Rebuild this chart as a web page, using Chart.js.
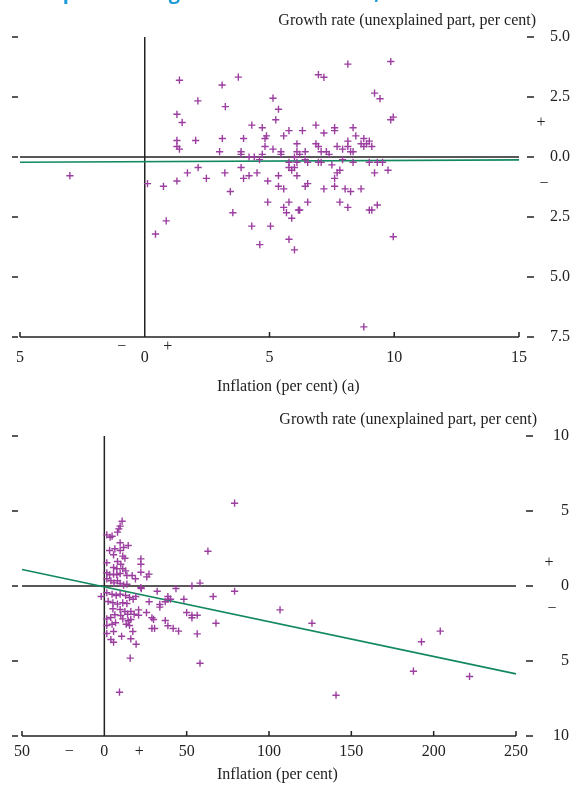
<!DOCTYPE html>
<html>
<head>
<meta charset="utf-8">
<title>Inflation and growth</title>
<script src="https://cdn.jsdelivr.net/npm/chart.js@4.4.1/dist/chart.umd.min.js"></script>
<style>
  html, body { margin: 0; padding: 0; background: #fff; }
  body { width: 571px; height: 785px; position: relative; overflow: hidden; }
  canvas { position: absolute; left: 0; }
</style>
</head>
<body>
<canvas id="chartTop" width="571" height="400" style="top:0"></canvas>
<canvas id="chartBottom" width="571" height="385" style="top:400px"></canvas>
<script>
// Upper panel: countries with inflation below 15 per cent
const topInflation = [-3.0, 1.39, 3.1, 3.75, 2.13, 3.23, 5.14, 5.36, 5.25, 1.29, 1.5, 4.29, 4.71, 5.78, 5.57, 4.88, 4.82, 1.29, 2.04, 3.11, 3.96, 1.29, 1.39, 3.0, 4.82, 5.14, 5.46, 5.46, 3.86, 3.86, 4.18, 4.39, 4.6, 4.71, 5.78,
  0.11, 0.75, 1.29, 1.71, 2.14, 2.47, 3.21, 3.86, 3.96, 4.18, 4.5, 4.93, 5.36, 5.36, 5.57,
  5.78, 5.89, 6.0, 6.1, 3.43, 4.93, 3.53, 5.78, 5.57, 5.68, 5.89, 6.16, 0.86, 0.43, 4.29, 5.04, 4.61, 5.78, 6.0,
  8.14, 9.86, 6.96, 7.18, 9.21, 9.43, 9.86, 9.96, 6.32, 6.86, 7.61, 7.61, 7.18, 8.35, 8.46, 8.78, 9.0, 8.67, 8.89, 9.1, 8.78,
  6.1, 6.86, 6.96, 7.71, 7.93, 8.14, 8.14, 8.25, 8.35,
  6.1, 6.43, 7.07, 7.28, 7.39, 6.0, 6.21, 6.43, 6.1, 6.53, 6.96, 7.07, 7.5, 7.93, 8.35, 9.0, 9.32, 9.53,
  7.82, 7.71, 7.61, 9.21, 9.75,
  6.43, 6.53, 7.18, 7.61, 8.03, 8.25, 8.67,
  6.21, 6.53, 7.82, 8.14, 9.0, 9.1, 9.32, 9.96, 8.78];
const topGrowth = [-0.78, 3.2, 3.0, 3.33, 2.34, 2.1, 2.45, 1.99, 1.55, 1.78, 1.44, 1.33, 1.22, 1.1, 0.88, 0.88, 0.77, 0.69, 0.69, 0.77, 0.77, 0.44, 0.33, 0.22, 0.44, 0.33, 0.22, 0.11, 0.22, 0.11, 0.0, 0.0, -0.11, 0.11, -0.22,
  -1.11, -1.22, -1.0, -0.66, -0.44, -0.89, -0.66, -0.44, -0.89, -0.78, -0.66, -1.0, -0.78, -1.22, -1.33,
  -0.44, -0.55, -0.44, -0.78, -1.44, -1.88, -2.32, -1.88, -2.1, -2.32, -2.55, -2.21, -2.66, -3.21, -2.88, -2.88, -3.65, -3.43, -3.87,
  3.87, 3.98, 3.43, 3.32, 2.66, 2.43, 1.55, 1.66, 1.1, 1.33, 1.22, 1.1, 1.0, 1.22, 0.88, 0.77, 0.66, 0.55, 0.55, 0.44, 0.44,
  0.55, 0.55, 0.44, 0.44, 0.33, 0.66, 0.44, 0.22, 0.22,
  0.22, 0.22, 0.22, 0.22, 0.11, 0.0, 0.11, -0.11, -0.22, -0.22, -0.22, -0.22, -0.33, -0.11, -0.22, -0.22, -0.22, -0.22,
  -0.55, -0.66, -0.89, -0.66, -0.55,
  -1.22, -1.11, -1.33, -1.22, -1.33, -1.44, -1.33,
  -2.21, -1.88, -1.88, -2.1, -2.21, -2.21, -2.0, -3.32, -7.08];
const topFit = [-0.195, 0.005];            // intercept, slope
const topXTicks = [-5, 0, 5, 10, 15];
const topXLabels = ['5', '0', '5', '10', '15'];
const topYTicks = [5, 2.5, 0, -2.5, -5, -7.5];
const topYLabels = ['5.0', '2.5', '0.0', '2.5', '5.0', '7.5'];

// Lower panel: full sample
const allInflation = [106.7, 126.1, 204, 192.6, 187.7, 221.8, 140.7, 62.9, 53.2, 58.1, 43.5, 48.3, 66.1, 79.1, 50.0, 53.2, 53.2, 56.4, 67.8, 41.8,
  45.1, 56.4, 58.1, 40.2, 79.1, 32.1, 38.6, 38.6, 37.0, 33.7, 33.7, 27.2, 28.9, 37.0, 28.9, 30.5, 38.6, 25.6, 20.8, 20.8, 22.4, 19.1, 17.5, -1.9,
  10.8, 9.6, 8.8, 8.0, 1.5, 3.5, 4.7, 9.6, 11.7, 14.5, 3.2, 6.4, 9.6, 5.6, 11.2, 12.5, 22.2, 1.5, 8.0, 10.0,
  22.2, 5.6, 7.6, 11.2, 12.9, 1.5, 3.2, 5.6, 7.6, 9.6, 13.7, 16.9, 18.9, 22.2, 27.1, 25.8, 1.5, 4.0, 5.9, 8.0, 9.6, 11.7, 13.7, 22.2,
  1.5, 4.7, 7.2, 9.6, 12.9, 15.3,
  2.3, 5.2, 8.0, 11.2, 13.7,
  5.2, 9.6, 12.5, 16.1,
  6.4, 10.0, 14.1, 18.1,
  1.5, 3.9, 11.2, 14.5, 16.1, 29.9,
  4.7, 1.5, 6.8, 13.3, 15.3,
  5.6, 1.5, 17.3, 10.5, 16.1, 19.3, 4.0, 5.6, 15.7, 9.2];
const allGrowth = [-1.59, -2.48, -3.01, -3.72, -5.68, -6.03, -7.28, 2.32, 0.01, 0.19, -0.17, -0.88, -0.7, -0.35, -1.77, -1.95, -2.12, -1.95, -2.48, -2.83,
  -3.01, -3.19, -5.15, -0.88, 5.52, -0.35, -0.7, -0.88, -1.05, -1.23, -1.41, -1.05, -2.12, -2.3, -2.83, -2.83, -2.65, -1.77, -1.59, -1.95, -0.17, -0.7, -0.88, -0.7,
  4.32, 3.99, 3.81, 3.59, 3.41, 3.25, 3.32, 2.88, 2.57, 2.7, 2.37, 2.48, 2.37, 2.08, 1.99, 1.85, 1.81, 1.55, 1.63, 1.45,
  1.45, 1.23, 1.15, 1.15, 1.01, 0.88, 0.75, 0.79, 0.75, 0.83, 0.7, 0.7, 0.48, 0.92, 0.79, 0.61, 0.48, 0.35, 0.21, 0.35, 0.17, 0.06, 0.12, -0.1,
  -0.45, -0.55, -0.63, -0.55, -0.63, -0.77,
  -1.03, -1.12, -1.21, -1.12, -1.17,
  -1.52, -1.57, -1.7, -1.7,
  -1.92, -1.97, -1.88, -1.88,
  -2.19, -2.1, -2.19, -2.32, -2.23, -2.23,
  -2.55, -2.63, -2.45, -2.55, -2.63,
  -3.03, -3.17, -3.03, -3.35, -3.52, -3.88, -3.57, -3.75, -4.81, -7.08];
const allFit = [-0.06, -0.0232];
const allXTicks = [-50, 0, 50, 100, 150, 200, 250];
const allXLabels = ['50', '0', '50', '100', '150', '200', '250'];
const allYTicks = [10, 5, 0, -5, -10];
const allYLabels = ['10', '5', '0', '5', '10'];

const SERIF = '16px "Liberation Serif", "Times New Roman", serif';
const INK = '#222';
const PURPLE = '#9b3ea0';
const GREEN = '#12895e';

// axis decoration: zero lines, bottom axis, dashes, labels and titles
function framePlugin(cfg) {
  return {
    id: 'frame',
    beforeDatasetsDraw(chart) {
      const { ctx, chartArea: a, scales: { x, y } } = chart;
      const x0 = x.getPixelForValue(0), y0 = y.getPixelForValue(0);
      ctx.save();
      ctx.strokeStyle = INK;
      ctx.lineWidth = 1.5;
      ctx.beginPath();
      ctx.moveTo(a.left, y0); ctx.lineTo(a.right, y0);
      ctx.moveTo(x0, a.top); ctx.lineTo(x0, a.bottom);
      ctx.moveTo(a.left, a.bottom); ctx.lineTo(a.right, a.bottom);
      cfg.xTicks.forEach(v => {
        const px = x.getPixelForValue(v);
        ctx.moveTo(px, a.bottom); ctx.lineTo(px, a.bottom - 5);
      });
      cfg.yTicks.forEach(v => {
        const py = y.getPixelForValue(v);
        ctx.moveTo(12, py); ctx.lineTo(18, py);
        ctx.moveTo(cfg.dashX, py); ctx.lineTo(cfg.dashX + 7, py);
      });
      ctx.stroke();
      ctx.restore();
    },
    afterDraw(chart) {
      const { ctx, chartArea: a, scales: { x, y } } = chart;
      const x0 = x.getPixelForValue(0), y0 = y.getPixelForValue(0);
      ctx.save();
      ctx.font = SERIF;
      ctx.fillStyle = INK;
      ctx.textBaseline = 'middle';
      ctx.textAlign = 'center';
      cfg.xTicks.forEach((v, i) => ctx.fillText(cfg.xLabels[i], x.getPixelForValue(v), a.bottom + cfg.xLabelGap));
      // sign markers either side of zero
      ctx.fillText('\u2212', x0 - cfg.xSign[0], a.bottom + cfg.xSign[1]);
      ctx.fillText('+', x0 + cfg.xSign[0], a.bottom + cfg.xSign[1]);
      ctx.fillText('+', cfg.ySign[0], y0 - cfg.ySign[1]);
      ctx.fillText('\u2212', cfg.ySign[0] + 3, y0 + cfg.ySign[2]);
      ctx.textAlign = 'right';
      cfg.yTicks.forEach((v, i) => ctx.fillText(cfg.yLabels[i], cfg.yLabelRight, y.getPixelForValue(v)));
      ctx.fillText(cfg.yTitle, cfg.yTitleRight, a.top - 16);
      ctx.textAlign = 'left';
      ctx.fillText(cfg.xTitle, cfg.xTitleLeft, a.bottom + cfg.xTitleGap);
      if (cfg.heading) {
        // heading line sits mostly above the page edge
        ctx.font = 'bold 20px "Open Sans", "Liberation Sans", sans-serif';
        ctx.fillStyle = '#1f9bd7';
        ctx.textBaseline = 'alphabetic';
        ctx.fillText(cfg.heading, 18, -1.5);
      }
      ctx.restore();
    }
  };
}

function fitLine(fit, lo, hi) {
  return [lo, hi].map(v => ({ x: v, y: fit[0] + fit[1] * v }));
}

function makeChart(id, xs, ys, fit, xRange, yRange, padding, frame) {
  new Chart(document.getElementById(id), {
    type: 'scatter',
    data: {
      datasets: [{
        data: xs.map((v, i) => ({ x: v, y: ys[i] })),
        pointStyle: 'cross',
        pointRadius: 3.6,
        borderColor: PURPLE,
        borderWidth: 1.4,
        clip: false
      }, {
        type: 'line',
        data: fitLine(fit, xRange[0], xRange[1]),
        borderColor: GREEN,
        borderWidth: 1.6,
        pointRadius: 0,
        clip: false
      }]
    },
    options: {
      responsive: false,
      animation: false,
      events: [],
      layout: { padding: padding },
      scales: {
        x: { type: 'linear', min: xRange[0], max: xRange[1], display: false },
        y: { type: 'linear', min: yRange[0], max: yRange[1], display: false }
      },
      plugins: { legend: { display: false }, tooltip: { enabled: false } }
    },
    plugins: [framePlugin(frame)]
  });
}

makeChart('chartTop', topInflation, topGrowth, topFit, [-5, 15], [-7.5, 5],
  { left: 20, right: 52, top: 37, bottom: 63 },
  {
    xTicks: topXTicks, xLabels: topXLabels, yTicks: topYTicks, yLabels: topYLabels,
    dashX: 527, yLabelRight: 570, xLabelGap: 21, xSign: [23, 10], ySign: [541, 34, 27],
    xTitle: 'Inflation (per cent) (a)', xTitleLeft: 217, xTitleGap: 50,
    yTitle: 'Growth rate (unexplained part, per cent)', yTitleRight: 536,
    heading: 'Comparison of growth and inflation, 1960\u201390'
  });

makeChart('chartBottom', allInflation, allGrowth, allFit, [-50, 250], [-10, 10],
  { left: 22, right: 55, top: 36, bottom: 49 },
  {
    xTicks: allXTicks, xLabels: allXLabels, yTicks: allYTicks, yLabels: allYLabels,
    dashX: 526, yLabelRight: 569, xLabelGap: 16, xSign: [35, 16], ySign: [549, 23, 23],
    xTitle: 'Inflation (per cent)', xTitleLeft: 217, xTitleGap: 39,
    yTitle: 'Growth rate (unexplained part, per cent)', yTitleRight: 537
  });
</script>
</body>
</html>
